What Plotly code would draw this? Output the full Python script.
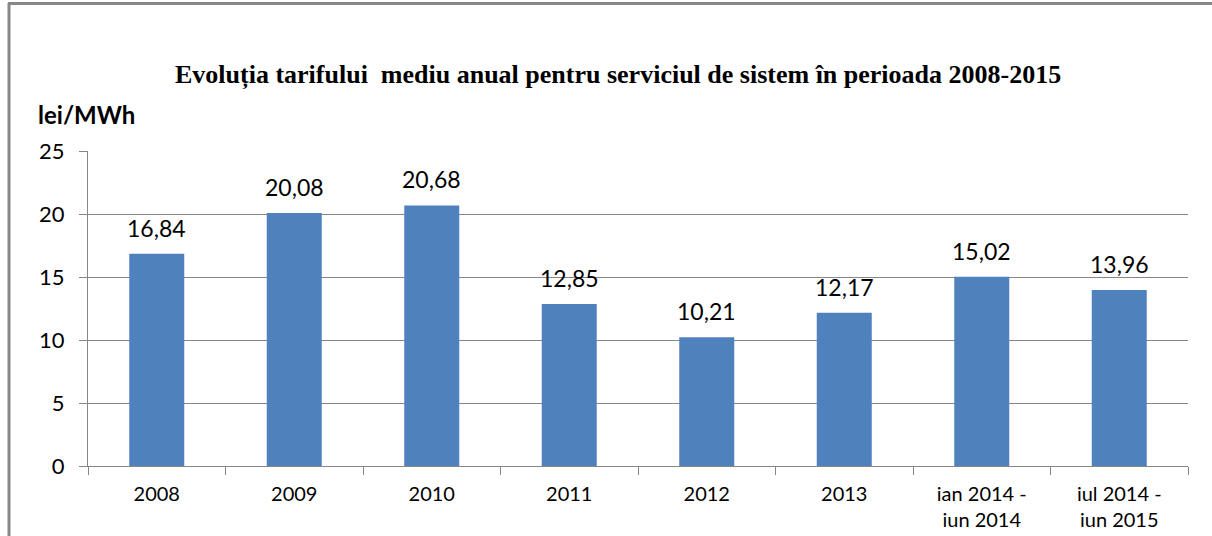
import plotly.graph_objects as go

categories = ["2008", "2009", "2010", "2011", "2012", "2013",
              "ian 2014 -<br>iun 2014", "iul 2014 -<br>iun 2015"]
values = [16.84, 20.08, 20.68, 12.85, 10.21, 12.17, 15.02, 13.96]
y_ticks = [0, 5, 10, 15, 20, 25]

title_text = "Evoluția tarifului\u00a0 mediu anual pentru serviciul de sistem în perioada 2008-2015"
y_unit = "lei/MWh"

W, H = 1212, 536
ML, MR, MT, MB = 88, 24, 151, 70
PW, PH = W - ML - MR, H - MT - MB

def px_x(px):
    return (px - ML) / PW

def px_y(py):
    return (H - MB - py) / PH

labels = [f"{v:.2f}".replace(".", ",") for v in values]

fig = go.Figure()
fig.add_trace(go.Bar(x=categories, y=values, marker=dict(color="#4F81BD", line=dict(width=0)),
                     hoverinfo="skip"))

annotations = []
for i, (v, t) in enumerate(zip(values, labels)):
    annotations.append(dict(x=i, y=v, text=t, showarrow=False, yanchor="middle",
                            yshift=26, font=dict(family="Lato", size=23, color="#000")))
annotations.append(dict(xref="paper", yref="paper", x=px_x(618), y=px_y(75),
                        text="<b>" + title_text + "</b>", showarrow=False,
                        xanchor="center", yanchor="middle",
                        font=dict(family="Liberation Serif", size=26, color="#000")))
annotations.append(dict(xref="paper", yref="paper", x=px_x(36), y=px_y(114),
                        text="<b>" + y_unit + "</b>", showarrow=False,
                        xanchor="left", yanchor="middle",
                        font=dict(family="Lato", size=24, color="#000")))

shapes = [
    dict(type="line", xref="paper", yref="paper", x0=px_x(9), x1=px_x(9), y0=px_y(3), y1=px_y(540),
         line=dict(color="#878787", width=3)),
    dict(type="line", xref="paper", yref="paper", x0=px_x(8), x1=px_x(1215), y0=px_y(3.5), y1=px_y(3.5),
         line=dict(color="#878787", width=3)),
]

fig.update_layout(
    width=W, height=H,
    margin=dict(l=ML, r=MR, t=MT, b=MB, pad=0),
    paper_bgcolor="white", plot_bgcolor="white",
    showlegend=False, bargap=0.6,
    annotations=annotations, shapes=shapes,
    xaxis=dict(type="category", range=[-0.5, len(categories) - 0.5], autorange=False,
               tickson="boundaries", ticks="outside", ticklen=8, tickcolor="#868686",
               showline=True, linecolor="#868686", linewidth=1, showgrid=False, tickangle=0,
               ticklabelstandoff=10,
               tickfont=dict(family="Lato", size=20, color="#000"), automargin=False),
    yaxis=dict(range=[0, 25], autorange=False, tickvals=y_ticks, ticks="outside", ticklen=8,
               tickcolor="#868686", showline=True, linecolor="#868686", linewidth=1,
               showgrid=True, gridcolor="#868686", gridwidth=1, zeroline=False,
               ticklabelstandoff=10,
               tickfont=dict(family="Lato", size=22, color="#000"), automargin=False),
)

fig.write_html("out.html", config={"displayModeBar": False},
               post_script="document.body.style.margin='0px';document.body.style.overflow='hidden';")
